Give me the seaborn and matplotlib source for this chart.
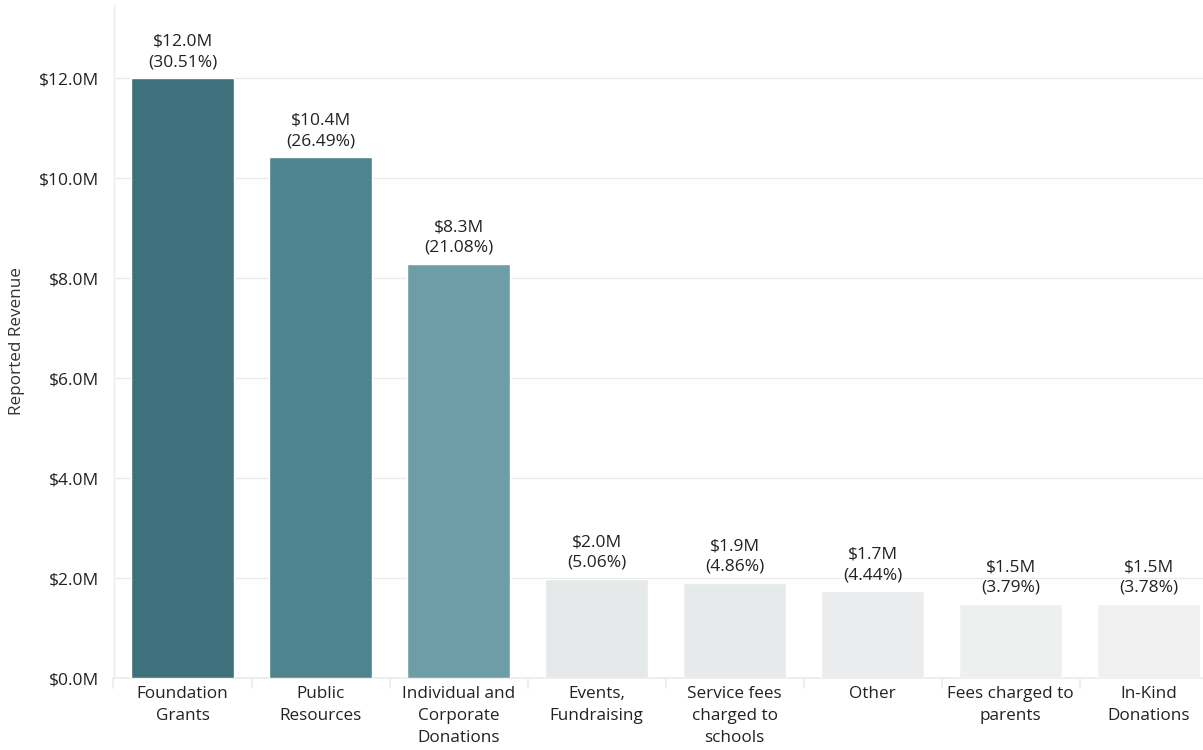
import matplotlib
matplotlib.use("Agg")
import matplotlib.pyplot as plt
import seaborn as sns
import pandas as pd
from matplotlib.ticker import FuncFormatter

# Revenue by source (millions of dollars) and share of total
categories = [
    "Foundation\nGrants",
    "Public\nResources",
    "Individual and\nCorporate\nDonations",
    "Events,\nFundraising",
    "Service fees\ncharged to\nschools",
    "Other",
    "Fees charged to\nparents",
    "In-Kind\nDonations",
]
revenue_m = [12.00, 10.42, 8.29, 1.99, 1.91, 1.74, 1.49, 1.49]
share_pct = [30.51, 26.49, 21.08, 5.06, 4.86, 4.44, 3.79, 3.78]
bar_colors = ["#3e717c", "#4f838e", "#6e9ca7", "#e5e9e9",
              "#e7eaea", "#ebeced", "#eeefef", "#f0f0f0"]
y_ticks = [0, 2, 4, 6, 8, 10, 12]

sns.set_theme(style="white")
plt.rcParams["font.family"] = ["Open Sans", "DejaVu Sans"]
text_color = "#222222"
grid_color = "#ebebeb"

df = pd.DataFrame({"source": categories, "revenue": revenue_m})

fig = plt.figure(figsize=(12.03, 7.5), dpi=100)
ax = fig.add_axes([113.5 / 1203, 72 / 750, (1203 - 113.5) / 1203, 673 / 750])

sns.barplot(data=df, x="source", y="revenue", hue="source", order=categories,
            hue_order=categories, palette=bar_colors, legend=False,
            width=0.75, saturation=1, ax=ax, zorder=3)

ax.set_xlim(-0.5, -0.5 + (1203 - 113.5) / 138)
ax.set_ylim(0, 13.46)

# horizontal gridlines
ax.set_yticks(y_ticks)
ax.yaxis.set_major_formatter(FuncFormatter(lambda v, _: f"${v:.1f}M"))
ax.grid(axis="y", color=grid_color, linewidth=1, zorder=0)
ax.grid(axis="x", visible=False)
ax.tick_params(axis="y", length=6, width=1, color=grid_color, pad=4,
               labelsize=12.5, labelcolor=text_color)

# category labels, with short separators between columns
ax.set_xticks(range(len(categories)))
ax.set_xticklabels(categories, linespacing=1.5)
ax.tick_params(axis="x", length=0, pad=6, labelsize=12.3, labelcolor=text_color)
for b in range(len(categories) + 1):
    ax.plot([b - 0.5, b - 0.5], [0, -0.2], color=grid_color, lw=1.2,
            clip_on=False, zorder=1)

for side in ["top", "right"]:
    ax.spines[side].set_visible(False)
ax.spines["left"].set_color(grid_color)
ax.spines["bottom"].set_color(grid_color)
ax.spines["left"].set_linewidth(1)
ax.spines["bottom"].set_linewidth(1.2)

ax.set_xlabel("")
ax.set_ylabel("Reported Revenue", fontsize=12.3, color="#333333", labelpad=10)

# value and share labels above each bar
for i, (v, p) in enumerate(zip(revenue_m, share_pct)):
    ax.annotate(f"${v:.1f}M\n({p:.2f}%)", xy=(i, v), xytext=(0, 5.5),
                textcoords="offset points", ha="center", va="bottom",
                fontsize=12.5, color=text_color, linespacing=1.4, zorder=4)

fig.savefig("out.png", dpi=100, facecolor="white")
